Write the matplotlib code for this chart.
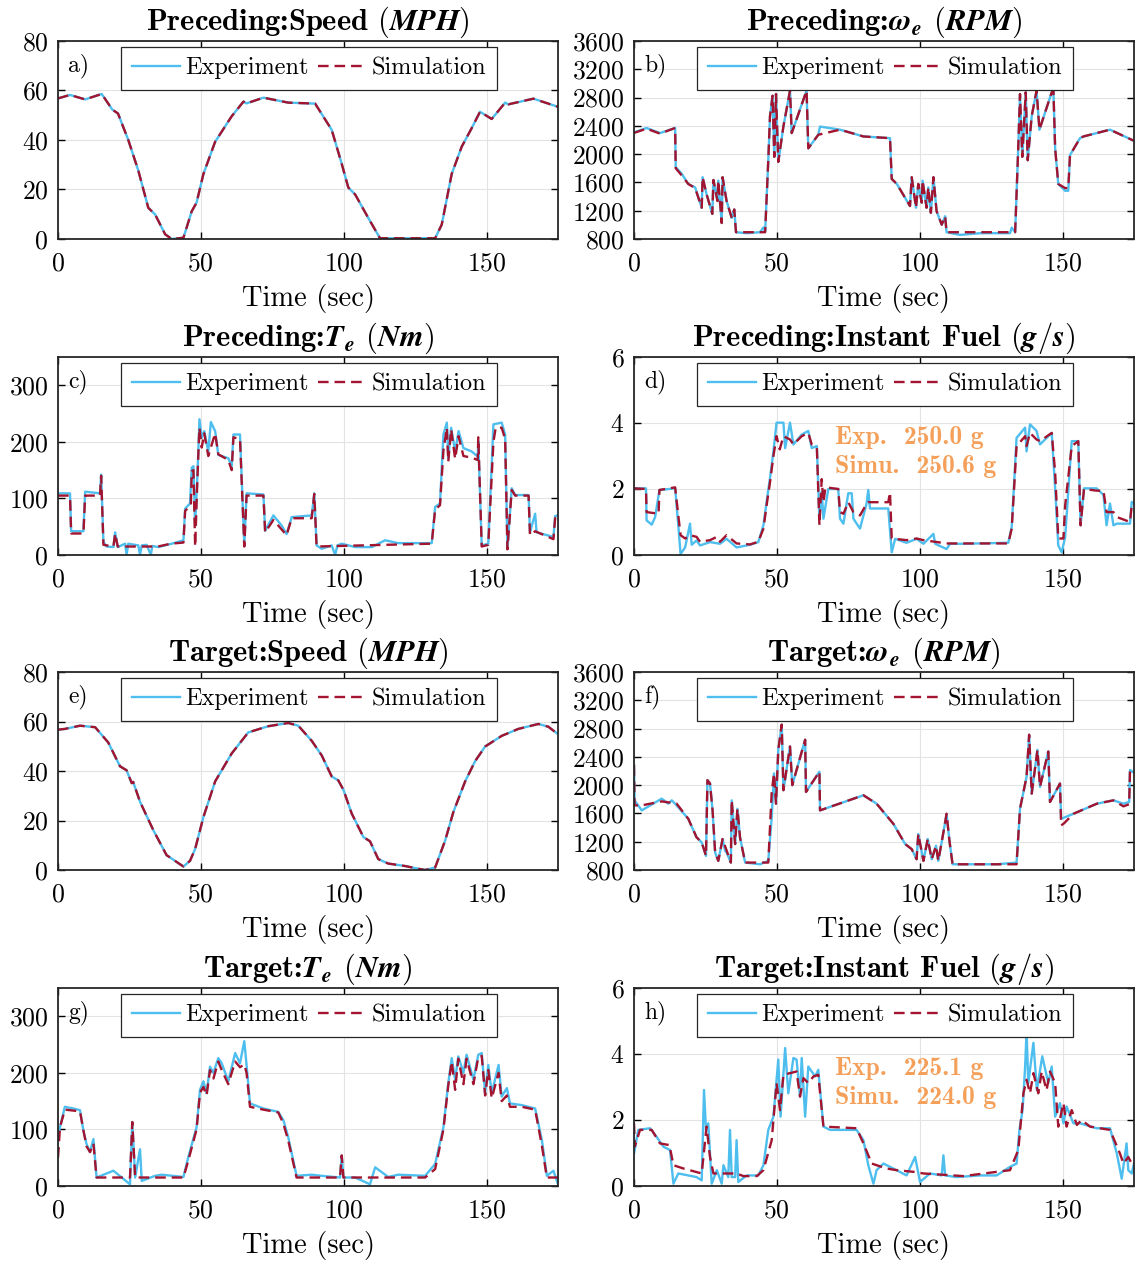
import matplotlib
matplotlib.use("Agg")
import matplotlib.pyplot as plt

plt.rcParams["font.family"] = "serif"
plt.rcParams["font.serif"] = ["cmr10"]
plt.rcParams["mathtext.fontset"] = "cm"
plt.rcParams["axes.formatter.use_mathtext"] = True
plt.rcParams["axes.unicode_minus"] = False

# ---- data: (time [s], value) pairs ----
pre_speed_exp = [(0, 56.8), (4.2, 58.2), (9.5, 56.4), (15.3, 58.6), (19, 52.3), (21, 50.7), (24.6, 40), (28.1, 27.7),
                 (31.6, 12.6), (34, 9.9), (37.5, 1.9), (39.8, 0), (43.9, 0.5), (46.8, 11.2), (48.5, 14.7), (50.9, 26.3),
                 (55, 39.3), (60.8, 49.6), (64.9, 55.5), (66, 54.8), (71.9, 57.1), (80.6, 55.1), (90, 54.7), (95.8, 44.1),
                 (99.3, 30.4), (101.6, 20.8), (104, 18), (108.6, 8.5), (112.7, 0.3), (132, 0.3), (134.3, 5.8), (137.8, 26.3),
                 (141.3, 37.3), (144.8, 44.8), (147.7, 51.4), (151.8, 48.5), (156.5, 55.1), (157.6, 54.4), (166.4, 56.7),
                 (175, 53.4)]
pre_speed_sim = pre_speed_exp

pre_rpm_exp = [(0, 2307), (4.4, 2370), (9.1, 2298), (14.4, 2370), (14.6, 1818), (16.7, 1722), (19.0, 1578), (21.4, 1530),
               (23.7, 1242), (24.0, 1674), (25.4, 1434), (27.4, 1155), (27.8, 1635), (29.2, 1338), (29.5, 1626), (30.7, 1026),
               (31.0, 1674), (32.4, 1338), (34.2, 1098), (35.1, 1218), (35.7, 896), (39.4, 882), (44.1, 896), (45.3, 963),
               (45.9, 906), (47.0, 1914), (47.6, 2538), (48.5, 2826), (49.1, 1962), (49.7, 2850), (50.5, 1890), (52.3, 2394),
               (54.6, 2898), (55.2, 2298), (60.4, 2898), (61.0, 2082), (64.5, 2274), (65.1, 2390), (72.1, 2346), (80.3, 2250),
               (89.6, 2226), (90.2, 1650), (92.0, 1578), (96.6, 1266), (97.2, 1674), (98.7, 1242), (99.5, 1578), (100.7, 1314),
               (101.0, 1626), (102.4, 1242), (103.0, 1530), (103.9, 1170), (104.8, 1674), (105.9, 1194), (107.7, 1002),
               (108.9, 1122), (109.4, 896), (114.1, 858), (121.1, 882), (131.6, 882), (132.2, 960), (133.4, 896),
               (134.5, 2106), (135.1, 2850), (135.9, 1962), (137.1, 2874), (137.8, 1914), (139.2, 2538), (140.9, 2898),
               (141.9, 2346), (146.2, 2874), (146.8, 2898), (147.4, 2082), (148.5, 1578), (150.9, 1482), (152.0, 1482),
               (152.6, 1986), (156.1, 2226), (157.3, 2250), (166.6, 2346), (174.8, 2192)]
pre_rpm_sim = [(0, 2300), (4.4, 2360), (9.1, 2290), (14.4, 2370), (14.6, 1800), (16.7, 1700), (19.0, 1578), (21.4, 1520),
               (23.7, 1242), (24.0, 1674), (25.4, 1434), (27.4, 1155), (27.8, 1635), (29.2, 1338), (29.5, 1626), (30.7, 1026),
               (31.0, 1674), (32.4, 1338), (34.2, 1098), (35.1, 1218), (35.7, 896), (45.9, 896), (47.0, 1914), (47.6, 2538),
               (48.5, 2826), (49.1, 1962), (49.7, 2850), (50.5, 1890), (52.3, 2394), (54.6, 2898), (55.2, 2298), (60.4, 2898),
               (61.0, 2082), (64.5, 2274), (72.1, 2346), (80.3, 2250), (89.6, 2226), (90.2, 1650), (92.0, 1578), (96.6, 1266),
               (97.2, 1674), (98.7, 1242), (99.5, 1578), (100.7, 1314), (101.0, 1626), (102.4, 1242), (103.0, 1530),
               (103.9, 1170), (104.8, 1674), (105.9, 1194), (107.7, 1002), (108.9, 1122), (109.4, 896), (133.4, 896),
               (134.5, 2106), (135.1, 2850), (135.9, 1962), (137.1, 2874), (137.8, 1914), (139.2, 2538), (140.9, 2898),
               (141.9, 2346), (146.2, 2874), (146.8, 2898), (147.4, 2082), (148.5, 1578), (150.9, 1520), (152.0, 1520),
               (152.6, 1986), (156.1, 2226), (157.3, 2250), (166.6, 2346), (174.8, 2192)]

pre_torque_exp = [(0, 109), (4.2, 109), (4.6, 42), (8.9, 42), (9.5, 112), (14.7, 109), (15.1, 142), (15.9, 23), (17, 15),
                  (19.4, 14), (20, 40), (20.9, 14), (23.5, 20), (24, 0), (24.6, 20), (28.1, 17), (28.7, 0), (29.3, 17),
                  (31, 18), (32.5, 0), (33, 16), (35.1, 14), (39.8, 20), (43.9, 26), (44.5, 82), (46.2, 91), (46.8, 154),
                  (47.4, 157), (48, 52), (48.9, 154), (49.5, 240), (50.3, 207), (51.2, 219), (52.6, 183), (53.5, 235),
                  (55, 219), (56.1, 177), (59.6, 171), (60.8, 157), (61.4, 213), (63.7, 213), (65.2, 17), (66, 109),
                  (71.9, 107), (72.5, 43), (75.4, 70), (78.3, 52), (80, 37), (81.8, 67), (88.8, 70), (89.7, 109),
                  (90.5, 17), (92.3, 11), (95.8, 17), (97, 0), (97.8, 17), (99.3, 20), (104, 14), (109.8, 14),
                  (114.5, 26), (119.1, 21), (130.8, 21), (132, 85), (133.7, 91), (134.9, 213), (136.1, 234), (136.6, 171),
                  (137.6, 225), (139, 183), (140.2, 219), (141.9, 189), (144.8, 183), (146.9, 174), (147.1, 201),
                  (148.3, 17), (150.6, 20), (152.4, 231), (155.3, 234), (156.5, 213), (157.3, 11), (158.8, 118),
                  (160, 106), (164.7, 106), (165.2, 40), (167, 73), (167.5, 40), (173.4, 32), (174, 69), (175, 70)]
pre_torque_sim = [(0, 105), (4.2, 105), (4.6, 38), (8.9, 38), (9.5, 105), (14.7, 105), (15.1, 140), (15.9, 18),
                  (19.4, 15), (20, 38), (20.9, 15), (28, 15), (35, 15), (39.5, 20), (43.9, 22), (44.5, 78), (46.5, 88),
                  (46.8, 148), (47.4, 150), (48, 15), (48.9, 150), (49.5, 225), (50.3, 190), (51.2, 215), (52.6, 175),
                  (55, 215), (56.1, 178), (59.6, 168), (60.8, 150), (61.4, 208), (63.7, 205), (65.2, 15), (66, 105),
                  (71.9, 105), (72.5, 40), (75.4, 62), (78.3, 45), (80, 35), (81.8, 65), (88.8, 65), (89.7, 108),
                  (90.5, 15), (130.8, 20), (132, 80), (133.7, 88), (134.9, 185), (136.1, 225), (136.6, 165),
                  (137.6, 222), (139, 170), (140.2, 210), (141.9, 175), (144.8, 172), (146.9, 168), (147.1, 208),
                  (148.3, 15), (150.6, 18), (152.4, 200), (153.2, 225), (155.3, 225), (156.5, 205), (157.3, 10),
                  (158.8, 115), (160, 105), (164.7, 105), (165.2, 35), (167, 42), (173.4, 28), (174, 65), (175, 65)]

pre_fuel_exp = [(0, 2.02), (4.2, 2.02), (4.4, 1.05), (6.2, 0.92), (7.4, 1.15), (8.9, 1.97), (14.4, 2.02), (15.5, 0.9),
                (16.3, 0.03), (17.9, 0.23), (19.6, 0.95), (20.2, 0.31), (21.9, 0.44), (23.1, 0.29), (26.6, 0.39),
                (30.1, 0.34), (32.4, 0.49), (35.9, 0.23), (40.6, 0.31), (43.5, 0.39), (45.3, 0.9), (46.4, 1.61),
                (47.6, 2.33), (48.8, 3.14), (49.9, 4.01), (52.3, 4.01), (52.9, 3.24), (54.6, 4.01), (55.8, 3.35),
                (58.7, 3.65), (61, 3.76), (62.2, 3.24), (64, 3.3), (64.9, 1.1), (65.7, 1.92), (66.3, 1.1), (68, 2.0),
                (71.5, 2.0), (72.1, 1.1), (73.3, 0.95), (75, 1.87), (76.2, 1.87), (76.8, 1.1), (79.1, 0.8), (81.4, 1.56),
                (82, 1.97), (82.6, 1.41), (89, 1.41), (90.2, 0.08), (91.4, 0.49), (95.4, 0.37), (98.9, 0.49),
                (101.3, 0.34), (104.8, 0.64), (105.4, 0.34), (109.4, 0.18), (110.6, 0.34), (115.3, 0.34), (131, 0.37),
                (132.2, 0.85), (133.9, 3.55), (136.9, 3.86), (137.4, 3.14), (138.6, 3.96), (140.9, 3.76), (142.1, 3.35),
                (146.2, 3.7), (147.4, 2.02), (148.5, 0.29), (149.7, 0.08), (150.9, 0.54), (153.2, 3.45), (155.5, 3.45),
                (156.3, 0.9), (157.5, 2.02), (161.9, 2.02), (164.3, 1.82), (165.4, 0.9), (166.6, 1.56), (167.8, 0.9),
                (169, 0.95), (173.6, 0.95), (174.2, 1.61), (175, 1.56)]
pre_fuel_sim = [(0, 2.02), (4.2, 2.0), (4.4, 1.3), (8.6, 1.25), (8.9, 1.97), (14.4, 2.05), (15.5, 1.2), (16.3, 0.6),
                (17.9, 0.5), (19.6, 0.6), (21.9, 0.55), (23.1, 0.4), (26.6, 0.45), (29, 0.55), (30.1, 0.4), (32.4, 0.6),
                (35.9, 0.35), (40.6, 0.32), (43.5, 0.4), (45.3, 0.8), (46.4, 1.5), (47.6, 2.2), (48.8, 3.0), (49.9, 3.6),
                (51, 3.2), (52.3, 3.6), (54.6, 3.5), (55.8, 3.35), (58.7, 3.6), (61, 3.7), (62.2, 3.35), (64, 3.25),
                (64.9, 0.9), (65.7, 2.3), (66.3, 1.6), (67, 2.05), (71.5, 2.0), (72.1, 1.3), (73.3, 1.25), (75, 1.6),
                (76.8, 1.3), (79.1, 1.2), (81.4, 1.55), (82, 1.6), (89, 1.6), (89.6, 1.9), (90.2, 0.5), (95.4, 0.45),
                (98.9, 0.5), (101.3, 0.45), (105.4, 0.4), (109.4, 0.35), (131, 0.35), (132.2, 0.8), (133.9, 3.3),
                (136.9, 3.6), (137.4, 3.3), (138.6, 3.7), (140.9, 3.5), (142.1, 3.45), (146.2, 3.7), (147.4, 2.5),
                (148.5, 0.5), (150.3, 0.5), (150.9, 1.5), (153.2, 3.3), (155.5, 3.45), (156.3, 0.9), (157.5, 2.0),
                (161.9, 1.95), (164.3, 1.95), (165.4, 1.3), (167.8, 1.3), (169, 1.15), (173.6, 1.0), (174.2, 1.5),
                (175, 1.5)]

tgt_speed_exp = [(0, 56.7), (2.4, 57), (7.7, 58.3), (13, 57.7), (17.6, 51.5), (21.7, 41.9), (24, 40.3), (25.8, 35.1),
                 (26.3, 35.6), (28.7, 27.6), (33.4, 16), (38, 6), (43.9, 1.4), (46.2, 3.7), (48, 8.5), (50.9, 21.4),
                 (55, 35.8), (60.8, 47.1), (66.6, 55.6), (73.6, 58.1), (80.6, 59.4), (84.1, 58.3), (88.8, 52.2),
                 (92.3, 46.3), (95.8, 37.8), (98.1, 36.2), (99.9, 32.4), (102.8, 22.8), (106.9, 13.3), (109.2, 11.6),
                 (112.1, 4.4), (115.6, 2.6), (121.5, 1.6), (126.1, 0.5), (128.5, 0), (132, 1), (135.5, 11.9),
                 (138.4, 23.5), (142.5, 35.8), (146, 44), (149.5, 49.9), (155.3, 54.2), (161.1, 57), (168.1, 59),
                 (171.6, 57.9), (175, 54.9)]
tgt_speed_sim = tgt_speed_exp

tgt_rpm_exp = [(0, 2285), (0.2, 1785), (2.7, 1643), (9.7, 1809), (12, 1738), (13.2, 1785), (14.9, 1714), (19, 1524),
               (21.9, 1262), (23.7, 1190), (25.2, 1000), (25.7, 2071), (26.6, 2023), (27.5, 1643), (28.4, 1048),
               (29.5, 929), (31, 1238), (31.9, 1071), (32.4, 1048), (33.9, 905), (34.2, 1785), (35.4, 1167), (36.2, 1666),
               (37.1, 1262), (38.9, 905), (44.1, 881), (47, 929), (48.2, 1547), (49, 2166), (49.7, 1738), (50.5, 2499),
               (51.7, 2856), (52.3, 1928), (54.6, 2547), (55.4, 2000), (59.9, 2642), (60.2, 1904), (64.9, 2190),
               (65.1, 1643), (80.3, 1857), (84.9, 1738), (90.8, 1452), (94.9, 1167), (97.2, 1095), (98.9, 952),
               (99.5, 1309), (101.3, 929), (102.8, 1238), (104.2, 952), (105.7, 1143), (106.5, 929), (108.3, 1333),
               (109.4, 1595), (110.4, 1214), (111.5, 881), (126.9, 881), (133.9, 905), (135.1, 1666), (137.4, 2119),
               (138.3, 2713), (139.2, 1880), (141.2, 2499), (142.1, 1976), (145, 2476), (145.6, 1762), (149.1, 2023),
               (149.5, 1524), (153.8, 1595), (162, 1738), (167.8, 1785), (169.5, 1762), (171.3, 1738), (173.3, 1762),
               (173.6, 2214), (175, 2176)]
tgt_rpm_sim = [(0, 2285), (0.2, 1714), (2.7, 1714), (9.7, 1770), (14.9, 1740), (19, 1524), (21.9, 1262), (23.7, 1190),
               (25.2, 1000), (25.7, 2071), (26.6, 2023), (27.5, 1643), (28.4, 1048), (29.5, 929), (31, 1238), (33.9, 905),
               (34.2, 1785), (35.4, 1167), (36.2, 1666), (37.1, 1262), (38.9, 905), (47, 905), (48.2, 1900), (49, 2166),
               (49.7, 1738), (50.5, 2499), (51.7, 2856), (52.3, 1928), (54.6, 2547), (55.4, 2000), (59.9, 2642),
               (60.2, 1904), (64.9, 2190), (65.1, 1643), (80.3, 1857), (84.9, 1738), (90.8, 1452), (94.9, 1167),
               (97.2, 1095), (98.9, 952), (99.5, 1309), (101.3, 929), (102.8, 1238), (104.2, 952), (105.7, 1143),
               (106.5, 929), (108.3, 1333), (109.4, 1595), (110.4, 1214), (111.5, 881), (133.9, 881), (135.1, 1666),
               (137.4, 2119), (138.3, 2713), (139.2, 1880), (141.2, 2499), (142.1, 1976), (145, 2476), (145.6, 1762),
               (149.1, 2023), (149.5, 1430), (150.5, 1460), (153.8, 1595), (162, 1738), (167.8, 1785), (171.3, 1700),
               (173.3, 1730), (173.6, 2214), (175, 2176)]

tgt_torque_exp = [(0, 86), (0.7, 104), (2.4, 140), (5.4, 137), (7.7, 134), (8.9, 98), (10, 74), (11.2, 60), (12.4, 83),
                  (13.5, 15), (19.4, 27), (22.3, 15), (25.2, 3), (26, 113), (27, 15), (28.7, 65), (29.3, 9), (34, 18),
                  (36.3, 20), (43.9, 16), (45.6, 51), (48.5, 104), (49.7, 170), (50.9, 185), (52, 164), (53.2, 211),
                  (54.4, 200), (56.1, 226), (57.3, 217), (59.6, 185), (62, 235), (63.7, 217), (65.2, 256), (66, 214),
                  (67.2, 146), (71.9, 137), (77.1, 131), (78.9, 116), (80.6, 86), (83.5, 18), (88.8, 20), (92.3, 18),
                  (98.7, 15), (99.3, 54), (99.9, 15), (104, 15), (109.2, 3), (111, 33), (115.6, 16), (119.1, 20),
                  (128.5, 18), (132, 39), (134.9, 104), (136.6, 182), (137.8, 226), (139, 188), (140.1, 229), (141.9, 200),
                  (143, 232), (145.4, 188), (147.1, 232), (148.3, 235), (149.5, 164), (150.6, 214), (151.8, 164),
                  (154.2, 214), (155.3, 158), (157.1, 173), (158.2, 146), (162.3, 143), (167, 137), (169.4, 80),
                  (171.1, 18), (173.4, 27), (175, 3)]
tgt_torque_sim = [(0, 50), (0.7, 104), (2.4, 135), (7.7, 132), (8.9, 98), (10, 70), (11.2, 60), (12.4, 75), (13.5, 15),
                  (25.2, 15), (26, 113), (27, 15), (43.9, 15), (45.6, 45), (48.5, 100), (49.7, 165), (50.9, 175),
                  (52, 160), (53.2, 205), (54.4, 190), (56.1, 220), (57.3, 205), (59.6, 180), (62, 220), (63.7, 210),
                  (65.2, 215), (66, 200), (67.2, 140), (71.9, 135), (77.1, 130), (78.9, 110), (80.6, 80), (83.5, 15),
                  (98.7, 15), (99.3, 54), (99.9, 15), (128.5, 15), (132, 30), (134.9, 100), (136.6, 178), (137.8, 220),
                  (139, 170), (140.1, 225), (141.9, 180), (143, 225), (145.4, 180), (147.1, 228), (148.3, 230),
                  (149.5, 160), (150.6, 205), (151.8, 155), (154.2, 200), (155.3, 150), (157.1, 160), (158.2, 140),
                  (162.3, 140), (167, 135), (169.4, 70), (171.1, 15), (175, 15)]

tgt_fuel_exp = [(0, 0.98), (1.5, 1.7), (5.6, 1.75), (7.9, 1.49), (10.3, 1.19), (12.6, 1.09), (13.8, 0.07), (15.5, 0.38),
                (19, 0.32), (21.9, 0.27), (23.7, 0.17), (24.5, 2.91), (25.2, 1.7), (26, 1.9), (27.2, 0.07), (29, 0.48),
                (30.7, 0.07), (31.3, 0.63), (33, 0.27), (33.6, 1.7), (34.2, 0.27), (35.4, 0.27), (35.9, 1.39),
                (36.5, 0.12), (39.4, 0.32), (43.5, 0.32), (45.3, 0.63), (47, 1.7), (48.8, 2.1), (50.5, 3.83), (51.3, 2.1),
                (52.9, 4.18), (54, 2.81), (55.8, 3.88), (56.9, 3.83), (58.1, 2.71), (58.7, 3.88), (59.9, 2.1),
                (61, 3.62), (63.4, 3.32), (64.5, 3.52), (66.3, 1.8), (68.6, 1.7), (77.9, 1.7), (80.3, 1.39), (82, 0.63),
                (83.8, 0.07), (84.9, 0.48), (87.3, 0.68), (91.9, 0.48), (95.4, 0.32), (98.4, 0.88), (100.1, 0.12),
                (103.6, 0.38), (107.7, 0.32), (108.3, 0.93), (108.9, 0.32), (112.9, 0.27), (121.1, 0.32), (126.9, 0.32),
                (131.6, 0.58), (133.9, 0.68), (134.9, 1.7), (136, 2.3), (136.9, 3.62), (137.4, 4.69), (138, 3.12),
                (139.8, 4.34), (141, 2.91), (142.9, 3.93), (145, 3.12), (146.2, 3.62), (147.4, 2.1), (149.1, 2.51),
                (150.3, 1.9), (151.4, 2.41), (153.8, 1.9), (156.1, 1.9), (161.9, 1.75), (166.6, 1.75), (169, 0.98),
                (170.7, 0.22), (172.4, 1.29), (173, 0.48), (174.2, 0.38), (175, 0.68)]
tgt_fuel_sim = [(0, 1.9), (0.3, 1.2), (2.1, 1.7), (6.2, 1.7), (9.1, 1.29), (12.4, 1.24), (13.8, 0.63), (17.3, 0.53),
                (23.7, 0.38), (25.4, 1.8), (26.6, 0.88), (27.8, 0.38), (35.9, 0.38), (38.3, 0.3), (43, 0.3), (45.3, 0.48),
                (48.2, 1.39), (49.9, 3.12), (51.1, 2.3), (52.3, 3.37), (56.9, 3.47), (58.1, 2.71), (59.3, 3.27),
                (61, 3.12), (62.8, 3.32), (64.5, 3.37), (66.3, 1.8), (77.9, 1.75), (80.3, 1.29), (83.2, 0.68),
                (88.4, 0.53), (91.9, 0.48), (97.8, 0.43), (101.3, 0.38), (115.3, 0.3), (131.6, 0.48), (134.5, 1.09),
                (136.3, 2.81), (137.4, 3.22), (138.6, 2.81), (139.8, 3.42), (141.5, 2.81), (142.7, 3.47), (144.4, 2.9),
                (145.6, 3.47), (147.4, 3.12), (148.5, 1.8), (150.3, 2.51), (151.4, 1.8), (153.2, 2.3), (155, 1.85),
                (156.7, 2.0), (159.6, 1.8), (166.6, 1.7), (170.1, 0.98), (171.3, 0.68), (173, 0.88), (174.2, 0.68)]

titles = [r"Preceding:Speed $\boldsymbol{(MPH)}$",
          r"Preceding:$\boldsymbol{\omega}_{\boldsymbol{e}}$ $\boldsymbol{(RPM)}$",
          r"Preceding:$\boldsymbol{T}_{\boldsymbol{e}}$ $\boldsymbol{(Nm)}$",
          r"Preceding:Instant Fuel $\boldsymbol{(g/s)}$",
          r"Target:Speed $\boldsymbol{(MPH)}$",
          r"Target:$\boldsymbol{\omega}_{\boldsymbol{e}}$ $\boldsymbol{(RPM)}$",
          r"Target:$\boldsymbol{T}_{\boldsymbol{e}}$ $\boldsymbol{(Nm)}$",
          r"Target:Instant Fuel $\boldsymbol{(g/s)}$"]
panel_tags = ["a)", "b)", "c)", "d)", "e)", "f)", "g)", "h)"]
fuel_notes = {3: ("Exp.  250.0 g", "Simu.  250.6 g"), 7: ("Exp.  225.1 g", "Simu.  224.0 g")}

series = [(pre_speed_exp, pre_speed_sim), (pre_rpm_exp, pre_rpm_sim), (pre_torque_exp, pre_torque_sim),
          (pre_fuel_exp, pre_fuel_sim), (tgt_speed_exp, tgt_speed_sim), (tgt_rpm_exp, tgt_rpm_sim),
          (tgt_torque_exp, tgt_torque_sim), (tgt_fuel_exp, tgt_fuel_sim)]
speed_ticks = [0, 20, 40, 60, 80]
rpm_ticks = list(range(800, 3601, 400))
torque_ticks = [0, 100, 200, 300]
fuel_ticks = [0, 2, 4, 6]
ylims = [(0, 80), (800, 3600), (0, 350), (0, 6)] * 2
yticks = [speed_ticks, rpm_ticks, torque_ticks, fuel_ticks] * 2

BLUE = "#4DBEEE"
RED = "#A2142F"
ORANGE = "#F5A05A"

fig = plt.figure(figsize=(11.39, 12.62), dpi=100)
W, H = 1139, 1262
lefts = [58, 634]
bottoms = [239, 555, 870, 1186]

for i in range(8):
    r, c = divmod(i, 2)
    ax = fig.add_axes([lefts[c] / W, 1 - bottoms[r] / H, 500 / W, 198 / H])
    exp, sim = series[i]
    te, ve = zip(*exp)
    ts, vs = zip(*sim)
    ax.plot(te, ve, color=BLUE, lw=1.7, label="Experiment")
    ax.plot(ts, vs, color=RED, lw=1.7, ls=(0, (4.5, 2.5)), label="Simulation")
    ax.set_xlim(0, 175)
    ax.set_ylim(*ylims[i])
    ax.set_xticks([0, 50, 100, 150])
    ax.set_yticks(yticks[i])
    ax.grid(True, color="#e3e3e3", lw=0.8)
    ax.set_axisbelow(True)
    ax.tick_params(direction="in", top=True, right=True, length=5, width=1.0, labelsize=18.5)
    ax.tick_params(axis="x", pad=9)
    ax.tick_params(axis="y", pad=7)
    for s in ax.spines.values():
        s.set_linewidth(1.3)
        s.set_color("#262626")
    ax.set_xlabel("Time (sec)", fontsize=20.5, labelpad=6)
    ax.set_title(titles[i], fontsize=22, family="cmb10", pad=8)
    leg = ax.legend(loc="upper center", ncol=2, fontsize=17.5, frameon=True, fancybox=False,
                    handlelength=2.0, handletextpad=0.2, columnspacing=0.4, borderpad=0.42,
                    borderaxespad=0.25, bbox_to_anchor=(0.502, 1.0))
    leg.get_frame().set_edgecolor("#262626")
    leg.get_frame().set_linewidth(0.9)
    leg.get_frame().set_alpha(1.0)
    ax.text(0.02, 0.935, panel_tags[i], transform=ax.transAxes, fontsize=17, va="top", ha="left")
    if i in fuel_notes:
        n1, n2 = fuel_notes[i]
        ax.text(70.4, 3.55, n1, color=ORANGE, fontsize=18.5, family="cmb10", va="center")
        ax.text(70.4, 2.68, n2, color=ORANGE, fontsize=18.5, family="cmb10", va="center")

fig.savefig("out.png", dpi=100)
